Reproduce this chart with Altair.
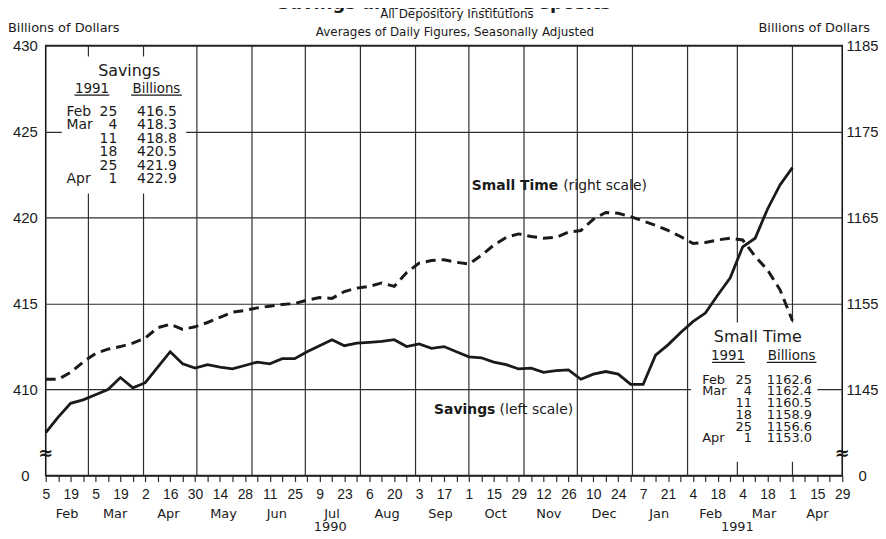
import altair as alt
import pandas as pd

# ---------------- data ----------------
week_dates = [d.strftime("%Y-%m-%d") for d in pd.date_range("1990-02-05", "1991-04-01", freq="7D")]

savings = [407.5, 408.4, 409.2, 409.4, 409.7, 410.0, 410.7, 410.1, 410.4, 411.3,
           412.2, 411.5, 411.25, 411.45, 411.3, 411.2, 411.4, 411.6, 411.5, 411.8,
           411.8, 412.2, 412.55, 412.9, 412.55, 412.7, 412.75, 412.8, 412.9, 412.5,
           412.65, 412.4, 412.5, 412.2, 411.9, 411.85, 411.6, 411.45, 411.2, 411.25,
           411.0, 411.1, 411.15, 410.6, 410.9, 411.05, 410.9, 410.3, 410.3, 412.0,
           412.6, 413.3, 413.95, 414.45, 415.5, 416.5, 418.3, 418.8, 420.5, 421.9,
           422.9]

small_time = [1146.2, 1146.2, 1147.0, 1148.2, 1149.2, 1149.7, 1150.0, 1150.4, 1151.0, 1152.2,
              1152.6, 1152.0, 1152.3, 1152.8, 1153.4, 1154.0, 1154.2, 1154.5, 1154.7, 1154.9,
              1155.0, 1155.4, 1155.7, 1155.6, 1156.4, 1156.8, 1157.0, 1157.4, 1157.0, 1158.6,
              1159.7, 1160.0, 1160.1, 1159.8, 1159.6, 1160.6, 1161.8, 1162.7, 1163.1, 1162.8,
              1162.6, 1162.7, 1163.3, 1163.5, 1164.8, 1165.6, 1165.5, 1165.1, 1164.6, 1164.1,
              1163.5, 1162.8, 1162.0, 1162.1, 1162.4, 1162.6, 1162.4, 1160.5, 1158.9, 1156.6,
              1153.0]

month_starts = [d.strftime("%Y-%m-%d") for d in pd.date_range("1990-03-01", "1991-04-01", freq="MS")]
tick_dates = pd.date_range("1990-02-05", "1991-04-29", freq="7D")

month_names = ["Feb", "Mar", "Apr", "May", "Jun", "Jul", "Aug", "Sep", "Oct", "Nov", "Dec",
               "Jan", "Feb", "Mar", "Apr"]
month_centers = ["1990-02-17", "1990-03-16", "1990-04-15", "1990-05-16", "1990-06-15",
                 "1990-07-16", "1990-08-16", "1990-09-15", "1990-10-16", "1990-11-15",
                 "1990-12-16", "1991-01-16", "1991-02-14", "1991-03-16", "1991-04-15"]
year_labels = ["1990", "1991"]
year_centers = ["1990-07-15", "1991-03-01"]

left_ticks = [405, 410, 415, 420, 425, 430]
right_ticks = [1135, 1145, 1155, 1165, 1175, 1185]

tbl_month = ["Feb", "Mar", "", "", "", "Apr"]
tbl_day = ["25", "4", "11", "18", "25", "1"]
savings_tbl_val = ["416.5", "418.3", "418.8", "420.5", "421.9", "422.9"]
small_tbl_val = ["1162.6", "1162.4", "1160.5", "1158.9", "1156.6", "1153.0"]

# white panels that hold the tables (date range, left-scale value range)
box_x0 = ["1990-02-14", "1991-02-03"]
box_x1 = ["1990-04-25", "1991-04-15"]
box_y0 = [421.4, 405.8]
box_y1 = [429.36, 413.9]

# ---------------- style ----------------
INK = "#1a1a1a"
GRID = "#2e2e2e"
SANS = "DejaVu Sans"
NUM = "Liberation Sans"
W, H = 802, 433

x_scale = alt.Scale(type="utc",
                    domain=[alt.DateTime(year=1990, month=2, date=5, utc=True),
                            alt.DateTime(year=1991, month=4, date=29, utc=True)])
x_axis = alt.Axis(
    values=[alt.DateTime(year=d.year, month=d.month, date=d.day, utc=True) for d in tick_dates],
    labelExpr="round((datum.value - utc(1990,1,5)) / 604800000) % 2 == 0 ? utcFormat(datum.value, '%-d') : ''",
    title=None, grid=False, domain=False, ticks=True, tickSize=6, tickWidth=1.2, tickColor=GRID,
    labelFont=NUM, labelFontSize=14, labelColor=INK,
    labelPadding=6, labelAngle=0, labelOverlap=False, labelFlush=False,
)
X = alt.X("date:T", scale=x_scale, axis=x_axis)

left_scale = alt.Scale(domain=[405, 430], nice=False, zero=False)
right_scale = alt.Scale(domain=[1135, 1185], nice=False, zero=False)

df_s = pd.DataFrame({"date": week_dates, "savings": savings})
df_t = pd.DataFrame({"date": week_dates, "small": small_time})

vgrid = alt.Chart(pd.DataFrame({"date": month_starts})).mark_rule(
    color=GRID, strokeWidth=1.2).encode(x=X)

boxes = alt.Chart(pd.DataFrame({"date": box_x0, "date2": box_x1, "y0": box_y0, "y1": box_y1})).mark_rect(
    color="white").encode(
    x=X, x2="date2:T",
    y=alt.Y("y0:Q", scale=left_scale, axis=None), y2="y1:Q")

sav_line = alt.Chart(df_s).mark_line(color=INK, strokeWidth=2.8).encode(
    x=X,
    y=alt.Y("savings:Q", scale=left_scale,
            axis=alt.Axis(orient="left", values=left_ticks, title=None,
                          labelExpr="datum.value == 405 ? '0' : format(datum.value, 'd')",
                          grid=True, gridColor=GRID, gridWidth=1.2, domain=False, ticks=False,
                          labelAlign="center", labelBaseline="middle", labelPadding=21,
                          labelFont=NUM, labelFontSize=15, labelColor=INK)))

small_line = alt.Chart(df_t).mark_line(color=INK, strokeWidth=3, strokeDash=[10, 6]).encode(
    x=X,
    y=alt.Y("small:Q", scale=right_scale,
            axis=alt.Axis(orient="right", values=right_ticks, title=None,
                          labelExpr="datum.value == 1135 ? '0' : format(datum.value, 'd')",
                          grid=False, domain=False, ticks=False,
                          labelAlign="center", labelBaseline="middle", labelPadding=20,
                          labelFont=NUM, labelFontSize=15, labelColor=INK)))

month_txt = alt.Chart(pd.DataFrame({"date": month_centers, "m": month_names})).mark_text(
    font=SANS, fontSize=13, color=INK, baseline="middle").encode(
    x=X, y=alt.value(H + 39), text="m:N")
year_txt = alt.Chart(pd.DataFrame({"date": year_centers, "yr": year_labels})).mark_text(
    font=SANS, fontSize=13, color=INK, baseline="middle").encode(
    x=X, y=alt.value(H + 52), text="yr:N")


def txt(s, x, y, size=13, weight="normal", align="left", font=SANS, baseline="middle"):
    return alt.Chart(pd.DataFrame({"t": [s]})).mark_text(
        align=align, baseline=baseline, fontSize=size, fontWeight=weight, font=font, color=INK
    ).encode(text="t:N", x=alt.value(x), y=alt.value(y))


def uline(x0, x1, y):
    return alt.Chart(pd.DataFrame({"a": [0]})).mark_rule(color=INK, strokeWidth=1.3).encode(
        x=alt.value(x0), x2=alt.value(x1), y=alt.value(y))


layers = [vgrid, boxes, sav_line, small_line, month_txt, year_txt]

# headings above the plot
layers += [
    txt("Savings and Small Time Deposits", 401, -37, size=18, weight="bold", align="center",
        baseline="alphabetic"),
    txt("All Depository Institutions", 414, -31.5, size=12, align="center"),
    txt("Averages of Daily Figures, Seasonally Adjusted", 412, -13.5, size=12, align="center"),
    txt("Billions of Dollars", -38, -17.5, size=13),
    txt("Billions of Dollars", 830, -17.5, size=13, align="right"),
]

# series annotations
layers += [
    txt("Small Time", 429, 141, size=14, weight="bold"),
    txt("(right scale)", 521, 141, size=14),
    txt("Savings", 391, 367, size=14, weight="bold"),
    txt("(left scale)", 457, 367, size=14),
]

# axis break marks
layers += [txt("\u2248", 0, 411, size=18, weight="bold", align="center"),
           txt("\u2248", W, 411, size=18, weight="bold", align="center")]

# Savings table (top-left)
layers += [txt("Savings", 84, 26, size=16, align="center"),
           txt("1991", 46.5, 44, size=13.5, align="center"),
           txt("Billions", 111.5, 44, size=13.5, align="center"),
           uline(29, 64, 50), uline(86, 137, 50)]
for i in range(6):
    yy = 67 + i * 13.5
    if tbl_month[i]:
        layers.append(txt(tbl_month[i], 21, yy, size=14))
    layers.append(txt(tbl_day[i], 72, yy, size=14, align="right"))
    layers.append(txt(savings_tbl_val[i], 92, yy, size=14))

# Small Time table (bottom-right)
layers += [txt("Small Time", 717, 293, size=16, align="center"),
           txt("1991", 687, 313, size=13.5, align="center"),
           txt("Billions", 751, 313, size=13.5, align="center"),
           uline(671, 704, 319), uline(726, 776, 319)]
for i in range(6):
    yy = 336.5 + i * 11.8
    if tbl_month[i]:
        layers.append(txt(tbl_month[i], 661, yy, size=13))
    layers.append(txt(tbl_day[i], 711, yy, size=13, align="right"))
    layers.append(txt(small_tbl_val[i], 726, yy, size=13))

chart = alt.layer(*layers).resolve_scale(y="independent").properties(
    width=W, height=H,
    autosize=alt.AutoSizeParams(type="none"),
    padding={"left": 38, "top": 36, "right": 36, "bottom": 57},
    background="white",
).configure_view(stroke=INK, strokeWidth=1.6)

chart.save("out.html", embed_options={"renderer": "svg", "actions": False})
